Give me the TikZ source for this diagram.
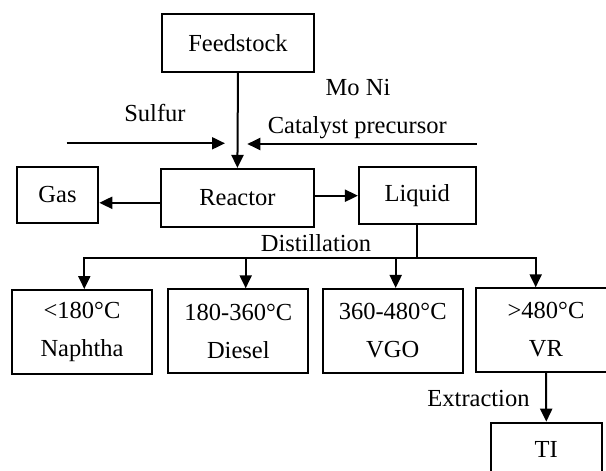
\documentclass[tikz,border=0pt]{standalone}
\usepackage{fontspec}
\setmainfont{Liberation Serif}
\usetikzlibrary{arrows.meta}
\begin{document}
\begin{tikzpicture}[x=1pt,y=-1pt,
  box/.style={draw,line width=2pt,inner sep=0pt,font=\fontsize{24.5}{38}\selectfont,align=center},
  lbl/.style={inner sep=0pt,anchor=base,font=\fontsize{24.5}{29}\selectfont},
  conn/.style={line width=2pt},
  arr/.style={conn,-{Triangle[length=13pt,width=12pt]}}]
\useasboundingbox (0,0) rectangle (606,471);
\clip (0,0) rectangle (606,471);
% boxes
\node[box,minimum width=152.6pt,minimum height=57.7pt] (feed) at (238,43) {Feedstock};
\node[box,minimum width=152.7pt,minimum height=57.7pt] (reactor) at (237.4,197.8) {Reactor};
\node[box,minimum width=81.6pt,minimum height=56.6pt] (gas) at (57.5,195) {Gas};
\node[box,minimum width=116.7pt,minimum height=56.7pt] (liquid) at (417.3,195.7) {Liquid};
\node[box,minimum width=139.4pt,minimum height=84.3pt] (naph) at (82,332.2) {<180°C\\Naphtha};
\node[box,minimum width=140pt,minimum height=84pt] (diesel) at (238.3,331.3) {180-360°C\\Diesel};
\node[box,minimum width=140pt,minimum height=83.7pt] (vgo) at (392.7,330.8) {360-480°C\\VGO};
\node[box,minimum width=140pt,minimum height=83.4pt] (vr) at (546,330) {>480°C\\VR};
\node[box,minimum width=110.7pt,minimum height=54pt] (ti) at (546.3,449.7) {TI};
% labels
\node[lbl] (moni) at (358,95) {Mo Ni};
\node[lbl] (sulfur) at (155,121.7) {Sulfur};
\node[lbl] (cat) at (357.3,133.3) {Catalyst precursor};
\node[lbl] (dist) at (316,251.7) {Distillation};
\node[lbl] (extr) at (478.5,406.7) {Extraction};
% connectors
\coordinate (sulfurin) at (66.7,143.3);
\coordinate (sulfurtip) at (225,143.3);
\coordinate (catin) at (476.7,144);
\coordinate (cattip) at (247.3,144);
\draw[arr] (feed.south) -- (reactor.north);
\draw[arr] (sulfurin) -- (sulfurtip);
\draw[arr] (catin) -- (cattip);
\draw[arr] ([yshift=-5pt]reactor.west) -- ([yshift=-5pt]reactor.west -| gas.east);
\draw[arr] (reactor.east |- liquid) -- (liquid.west);
\coordinate (bus) at ([xshift=-0.6pt]liquid.south |- 0,258.3);
\draw[conn] ([xshift=-0.6pt]liquid.south) -- (bus);
\draw[arr] (bus) -| ([xshift=2.3pt]naph.north);
\draw[arr] (bus) -| ([xshift=-10.3pt]vr.north);
\draw[arr] ([xshift=7.4pt]diesel.north |- bus) -- ([xshift=7.4pt]diesel.north);
\draw[arr] ([xshift=3pt]vgo.north |- bus) -- ([xshift=3pt]vgo.north);
\draw[arr] (vr.south) -- (ti.north);
\end{tikzpicture}
\end{document}
